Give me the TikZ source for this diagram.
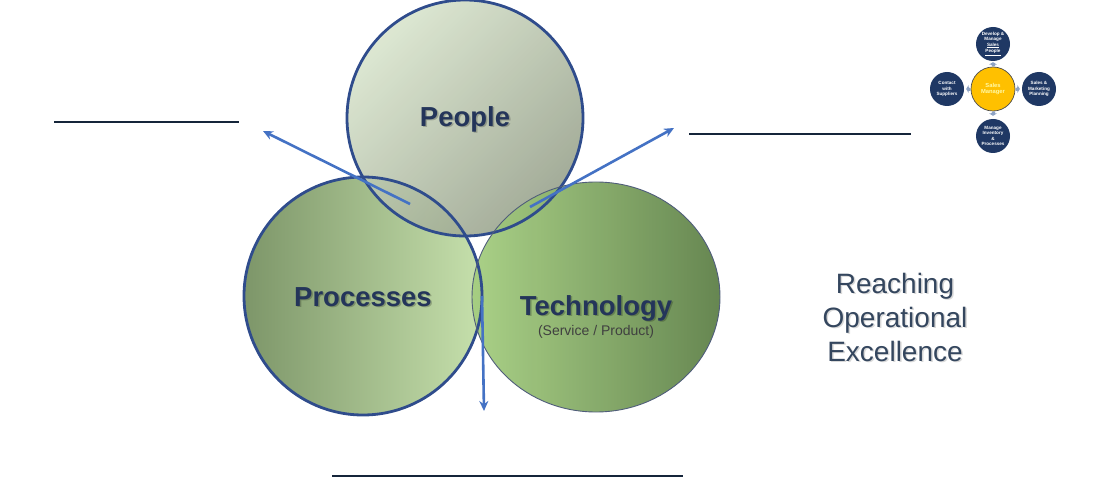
\documentclass[tikz,border=0pt]{standalone}
\usepackage{fontspec}
\setmainfont{Liberation Sans}
\usepackage{xcolor}
\usetikzlibrary{arrows.meta}
\definecolor{navy}{HTML}{24355A}
\definecolor{slate}{HTML}{34465E}
\definecolor{rim}{HTML}{2F4C8C}
\definecolor{arr}{HTML}{4472C4}
\definecolor{blank}{HTML}{15253A}
\definecolor{dot}{HTML}{1F3864}
\definecolor{gold}{HTML}{FFC000}
\definecolor{tip}{HTML}{8EA3C4}
\tikzset{
  bigword/.style={font=\fontsize{27.5}{30}\selectfont\bfseries,text=navy},
  shadowword/.style={font=\fontsize{27.5}{30}\selectfont\bfseries,text=black,opacity=0.22},
  blankline/.style={blank,line width=2.2pt},
  pointer/.style={arr,line width=2.6pt,-{Stealth[length=10pt,width=9pt]}},
  smallcirc/.style={circle,fill=dot,minimum size=34pt,inner sep=0pt,text=white,align=center,font=\fontsize{4.6}{5.2}\selectfont\bfseries}
}
\begin{document}
\begin{tikzpicture}[x=1pt,y=-1pt]
\useasboundingbox (0,0) rectangle (1103,489);
% circle fills
\shade[left color={rgb,255:red,125;green,150;blue,105},right color={rgb,255:red,198;green,224;blue,172}]
  (363,296) circle (119);
\shade[top color={rgb,255:red,216;green,228;blue,204},bottom color={rgb,255:red,150;green,160;blue,138},shading angle=45,fill opacity=0.88]
  (465,118) circle (118);
\shade[left color={rgb,255:red,165;green,206;blue,128},right color={rgb,255:red,94;green,128;blue,72},fill opacity=0.95]
  (596,297) ellipse (124 and 115);
% circle rims
\draw[rim,line width=2.8pt] (363,296) circle (119);
\draw[rim,line width=2.8pt] (465,118) circle (118);
\draw[navy!80,line width=0.9pt] (596,297) ellipse (124 and 115);
% labels
\node[shadowword] at (466.5,120.5) {People};
\node[bigword] (people) at (465,119) {People};
\node[shadowword] at (364.5,298.5) {Processes};
\node[bigword] (proc) at (363,297) {Processes};
\node[shadowword] at (597.5,309.5) {Technology};
\node[bigword] (tech) at (596,308) {Technology};
\node[text=black!75,font=\fontsize{14}{16}\selectfont] (serv) at (596,332) {(Service / Product)};
\node[text=black,opacity=0.15,align=center,font=\fontsize{28}{34}\selectfont] at (896.5,318.5)
  {Reaching\\Operational\\Excellence};
\node[text=slate,align=center,font=\fontsize{28}{34}\selectfont] (reach) at (895,317)
  {Reaching\\Operational\\Excellence};
% arrows
\coordinate (a1) at (410,204);
\coordinate (b1) at (263,131);
\coordinate (a2) at (530,207);
\coordinate (b2) at (674,128);
\coordinate (a3) at (482,296);
\coordinate (b3) at (484,411);
\draw[pointer] (a1)--(b1);
\draw[pointer] (a2)--(b2);
\draw[pointer] (a3)--(b3);
% blank lines
\coordinate (l1) at (54,122);  \coordinate (r1) at (239,122);
\coordinate (l2) at (689,134); \coordinate (r2) at (911,134);
\coordinate (l3) at (332,476); \coordinate (r3) at (683,476);
\draw[blankline] (l1)--(r1);
\draw[blankline] (l2)--(r2);
\draw[blankline] (l3)--(r3);
% small picture
\node[circle,fill=gold,draw=black!70,line width=0.7pt,minimum size=44pt,inner sep=0pt,text=yellow!35,align=center,
      font=\fontsize{5.8}{6.6}\selectfont\bfseries] (mgr) at (993,89) {Sales\\Manager};
\node[smallcirc] (dev) at (993,44) {Develop \&\\Manage\\\underline{Sales}\\\underline{People}};
\node[smallcirc] (sup) at (947,89) {Contact\\with\\Suppliers};
\node[smallcirc] (mkt) at (1039,89) {Sales \&\\Marketing\\Planning};
\node[smallcirc] (inv) at (993,136) {Manage\\Inventory\\\&\\Processes};
\fill[tip] (993,66.5) -- ++(2,0) -- ++(0,-1.8) -- ++(2,0) -- ++(-4,-2.6) -- ++(-4,2.6) -- ++(2,0) -- cycle;
\fill[tip] (993,111.5) -- ++(2,0) -- ++(0,1.8) -- ++(2,0) -- ++(-4,2.6) -- ++(-4,-2.6) -- ++(2,0) -- cycle;
\fill[tip] (970.5,89) -- ++(0,2) -- ++(-1.8,0) -- ++(0,2) -- ++(-2.6,-4) -- ++(2.6,-4) -- ++(0,2) -- cycle;
\fill[tip] (1015.5,89) -- ++(0,2) -- ++(1.8,0) -- ++(0,2) -- ++(2.6,-4) -- ++(-2.6,-4) -- ++(0,2) -- cycle;
\end{tikzpicture}
\end{document}
